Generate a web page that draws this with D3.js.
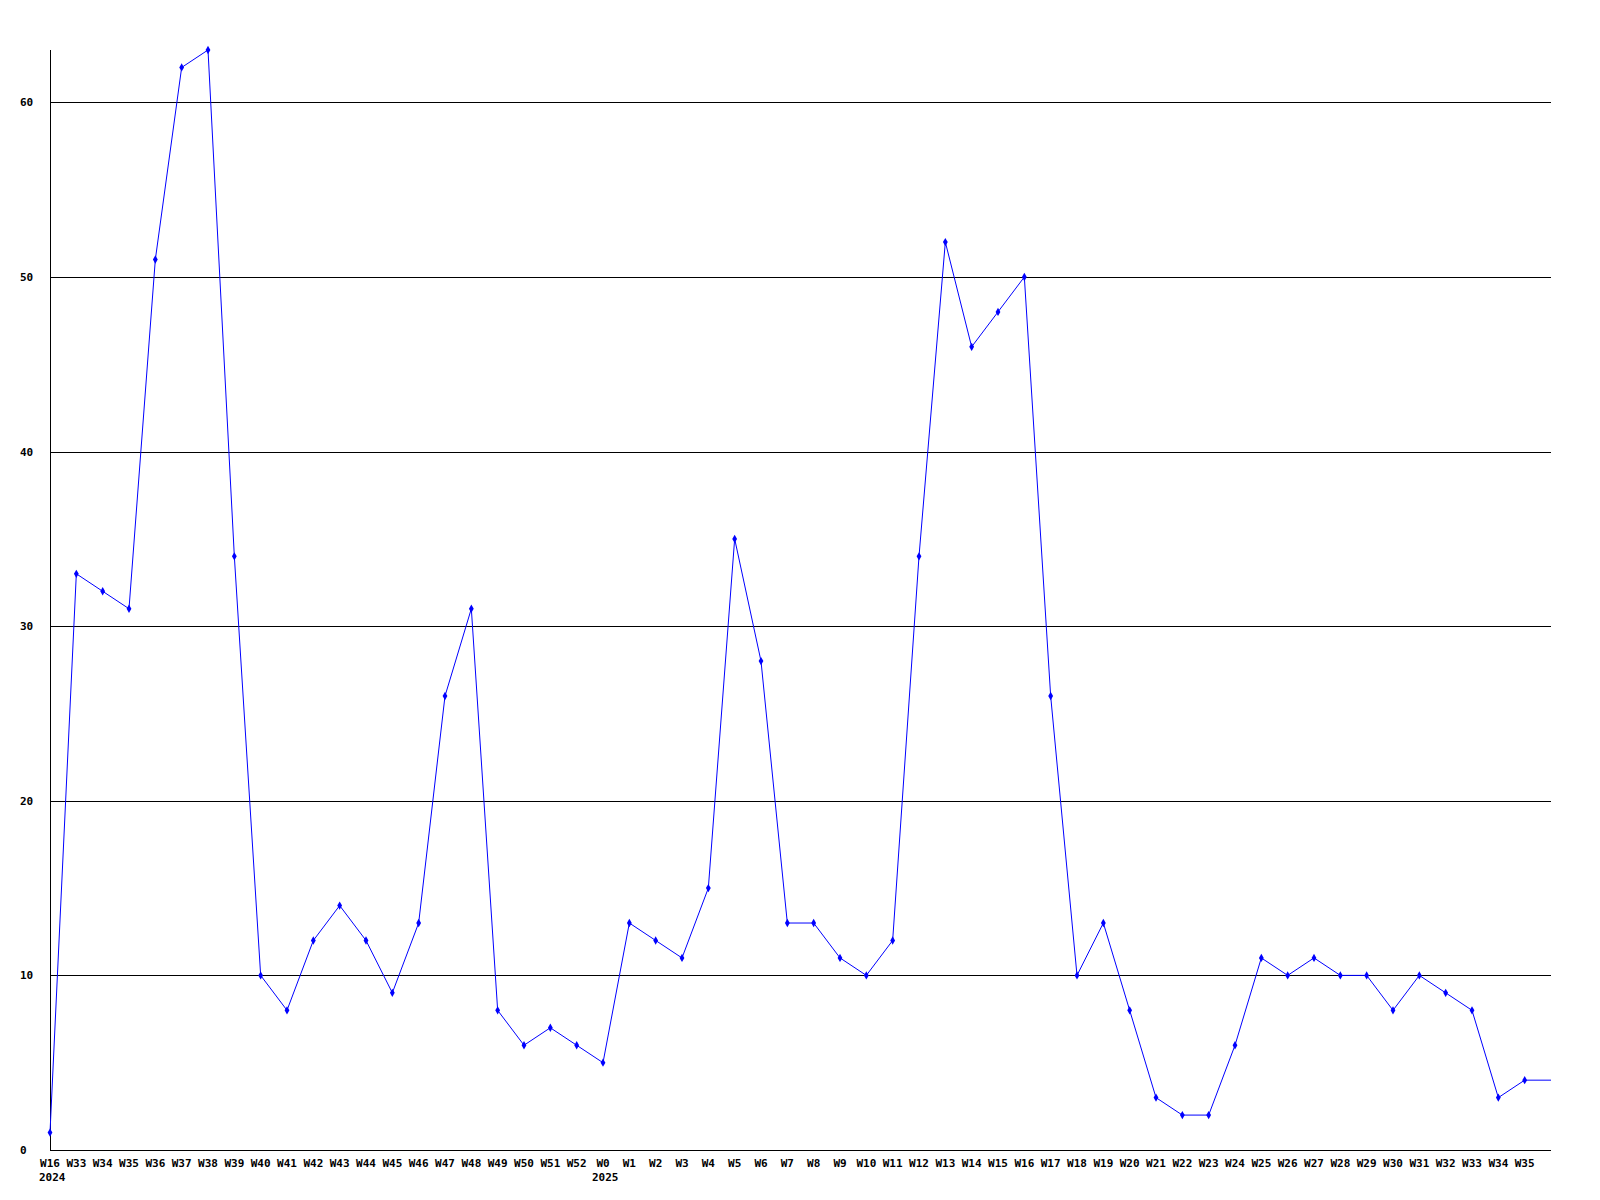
<!DOCTYPE html>
<meta charset="utf-8">
<style>
  body { margin: 0; background: #fff; }
  text { font-family: "DejaVu Sans Mono", monospace; font-weight: bold; font-size: 11px; fill: #000; }
</style>
<svg width="1600" height="1200"></svg>
<script src="https://d3js.org/d3.v7.min.js"></script>
<script>
var weeks = ["W16", "W33", "W34", "W35", "W36", "W37", "W38", "W39", "W40", "W41", "W42",
  "W43", "W44", "W45", "W46", "W47", "W48", "W49", "W50", "W51", "W52",
  "W0", "W1", "W2", "W3", "W4", "W5", "W6", "W7", "W8", "W9", "W10", "W11", "W12",
  "W13", "W14", "W15", "W16", "W17", "W18", "W19", "W20", "W21", "W22", "W23", "W24",
  "W25", "W26", "W27", "W28", "W29", "W30", "W31", "W32", "W33", "W34", "W35"]

var counts = [1, 33, 32, 31, 51, 62, 63, 34, 10, 8, 12,
  14, 12, 9, 13, 26, 31, 8, 6, 7, 6,
  5, 13, 12, 11, 15, 35, 28, 13, 13, 11, 10, 12, 34,
  52, 46, 48, 50, 26, 10, 13, 8, 3, 2, 2, 6,
  11, 10, 11, 10, 10, 8, 10, 9, 8, 3, 4]

// current (unfinished) week, drawn without marker or label
var lastValue = 4

var years = [{ index: 0, label: "2024" }, { index: 21, label: "2025" }]
var yTicks = [0, 10, 20, 30, 40, 50, 60]

var svg = d3.select('svg')

var x = d3.scaleLinear().domain([0, weeks.length]).range([50, 1551])
var y = d3.scaleLinear().domain([0, 63]).range([1150, 50])

// gridlines
svg.append('g').selectAll('line')
  .data(yTicks.filter(function (t) { return t > 0 }))
  .enter().append('line')
  .attr('x1', 50).attr('x2', 1551)
  .attr('y1', function (t) { return Math.round(y(t)) + 0.5 })
  .attr('y2', function (t) { return Math.round(y(t)) + 0.5 })
  .attr('stroke', '#000').attr('stroke-width', 1)

// axes
svg.append('line').attr('x1', 50.5).attr('x2', 50.5).attr('y1', 50).attr('y2', 1150)
  .attr('stroke', '#000')
svg.append('line').attr('x1', 50).attr('x2', 1551).attr('y1', 1150.5).attr('y2', 1150.5)
  .attr('stroke', '#000')

svg.append('g').selectAll('text')
  .data(yTicks)
  .enter().append('text')
  .attr('x', 20)
  .attr('y', function (t) { return Math.round(y(t)) + 4 })
  .text(function (t) { return t })

svg.append('g').selectAll('text')
  .data(weeks)
  .enter().append('text')
  .attr('x', function (d, i) { return x(i) })
  .attr('y', 1167)
  .attr('text-anchor', 'middle')
  .text(function (d) { return d })

svg.append('g').selectAll('text')
  .data(years)
  .enter().append('text')
  .attr('x', function (d) { return x(d.index) - 11 })
  .attr('y', 1181)
  .text(function (d) { return d.label })

// series
var points = counts.map(function (v, i) { return [i, v] })
points.push([weeks.length, lastValue])

var line = d3.line()
  .x(function (p) { return x(p[0]) })
  .y(function (p) { return y(p[1]) })

svg.append('path')
  .datum(points)
  .attr('d', line)
  .attr('fill', 'none')
  .attr('stroke', '#0000ff')
  .attr('stroke-width', 1)

svg.append('g').selectAll('path')
  .data(counts)
  .enter().append('path')
  .attr('d', d3.symbol().type(d3.symbolDiamond).size(20))
  .attr('transform', function (v, i) { return 'translate(' + x(i) + ',' + y(v) + ')' })
  .attr('fill', '#0000ff')
</script>
